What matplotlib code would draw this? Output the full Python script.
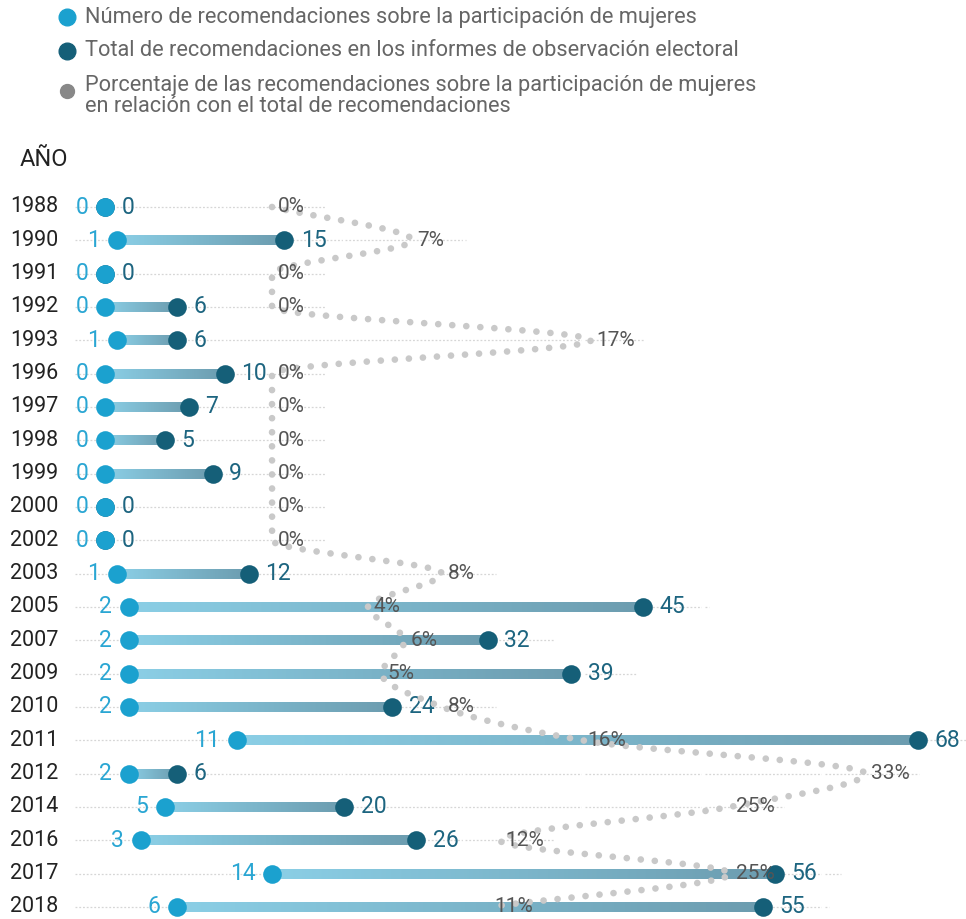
import numpy as np
import matplotlib.pyplot as plt
from matplotlib.colors import LinearSegmentedColormap

plt.rcParams['font.family'] = ['Roboto', 'DejaVu Sans']

# data
years = ['1988', '1990', '1991', '1992', '1993', '1996', '1997', '1998', '1999', '2000', '2002',
         '2003', '2005', '2007', '2009', '2010', '2011', '2012', '2014', '2016', '2017', '2018']
women = [0, 1, 0, 0, 1, 0, 0, 0, 0, 0, 0, 1, 2, 2, 2, 2, 11, 2, 5, 3, 14, 6]
total = [0, 15, 0, 6, 6, 10, 7, 5, 9, 0, 0, 12, 45, 32, 39, 24, 68, 6, 20, 26, 56, 55]
pct = [0, 6.7, 0, 0, 16.7, 0, 0, 0, 0, 0, 0, 8.3, 4.4, 6.3, 5.1, 8.3, 16.2, 33.3, 25, 11.5, 25, 10.9]

legend_labels = ['Número de recomendaciones sobre la participación de mujeres',
                 'Total de recomendaciones en los informes de observación electoral',
                 'Porcentaje de las recomendaciones sobre la participación de mujeres\n'
                 'en relación con el total de recomendaciones']

LIGHT = '#1ba1cf'
DARK = '#155f78'
GRAY = '#c9c9c9'

W, H = 966, 919
fig = plt.figure(figsize=(W / 100, H / 100), dpi=100)
ax = fig.add_axes([0, 0, 1, 1])
ax2 = ax.twiny()

# value axis: 0 at x=105 px, 11.96 px per unit
ax.set_xlim(-105 / 11.96, (W - 105) / 11.96)
# percentage axis: power scale, 0% at x=272 px
EXP, K = 0.9, 25.3
fwd = lambda p: np.sign(p) * np.abs(p) ** EXP
inv = lambda q: np.sign(q) * np.abs(q) ** (1 / EXP)
ax2.set_xscale('function', functions=(fwd, inv))
ax2.set_xlim(-inv(272 / K), inv((W - 272) / K))
ypos = np.arange(len(years))

# row gridlines
for i in ypos:
    pv = (272 + K * fwd(pct[i]) - 105) / 11.96
    end = max(total[i] + 5.5, pv + 4.5)
    ax.plot([-2.5, end], [i, i], color='#d6d6d6', lw=0.9, ls=(0, (1.5, 1.5)), zorder=1)
for v in range(10, 70, 10):
    ax.axvline(v, color='white', lw=1.6, zorder=1.5)

# gradient bars
cmap = LinearSegmentedColormap.from_list('bar', ['#8bcfe6', '#6c9caf'])
grad = np.linspace(0, 1, 256).reshape(1, -1)
h = 0.3
for i in ypos:
    if total[i] > women[i]:
        ax.imshow(grad, cmap=cmap, extent=(women[i], total[i], i + h / 2, i - h / 2),
                  aspect='auto', zorder=2, interpolation='bilinear')

ax.scatter(total, ypos, s=180, color=DARK, zorder=4, lw=0)
ax.scatter(women, ypos, s=180, color=LIGHT, zorder=5, lw=0)

for i in ypos:
    ax.annotate(str(women[i]), (women[i], i), xytext=(-12, 0), textcoords='offset points',
                ha='right', va='center', fontsize=16.5, color='#2aa6d3', zorder=6)
    ax.annotate(str(total[i]), (total[i], i), xytext=(12, 0), textcoords='offset points',
                ha='left', va='center', fontsize=16.5, color='#1d6580', zorder=6)
    ax.text(-95 / 11.96, i, years[i], ha='left', va='center',
            fontsize=15.5, color='#222222')

# percentage curve (monotone cubic through the points)
def pchip(x, y, xs):
    x = np.asarray(x, float)
    y = np.asarray(y, float)
    d = np.diff(y) / np.diff(x)
    m = np.zeros_like(y)
    m[0], m[-1] = d[0], d[-1]
    for k in range(1, len(y) - 1):
        if d[k - 1] * d[k] > 0:
            m[k] = 2 / (1 / d[k - 1] + 1 / d[k])
    idx = np.clip(np.searchsorted(x, xs) - 1, 0, len(x) - 2)
    hh = x[idx + 1] - x[idx]
    t = (xs - x[idx]) / hh
    h00 = 2 * t**3 - 3 * t**2 + 1
    h10 = t**3 - 2 * t**2 + t
    h01 = -2 * t**3 + 3 * t**2
    h11 = t**3 - t**2
    return h00 * y[idx] + h10 * hh * m[idx] + h01 * y[idx + 1] + h11 * hh * m[idx + 1]

yy = np.linspace(0, len(years) - 1, 3000)
xx = inv(pchip(ypos, fwd(np.array(pct)), yy))
ax2.plot(xx, yy, color=GRAY, lw=4.8, ls=(0, (0.01, 2.1)), dash_capstyle='round', zorder=7)
for i in ypos:
    ax2.annotate(f'{pct[i]:.0f}%', (pct[i], i), xytext=(4, 0), textcoords='offset points',
                 ha='left', va='center', fontsize=15, color='#555555', zorder=8)

ax.set_ylim((H - 207) / 33.33, -207 / 33.33)
ax.set_axis_off()
ax2.set_axis_off()

# legend and header
for yp, col, ms in [(17, LIGHT, 12), (51, DARK, 12), (91, '#888888', 10)]:
    fig.lines.append(plt.Line2D([67 / W], [1 - yp / H], marker='o', ms=ms, color=col,
                                transform=fig.transFigure, lw=0))
fig.text(85 / W, 1 - 17 / H, legend_labels[0], fontsize=15.7, color='#666666', va='center')
fig.text(85 / W, 1 - 51 / H, legend_labels[1], fontsize=15.7, color='#666666', va='center')
fig.text(85 / W, 1 - 96 / H, legend_labels[2], fontsize=15.7, color='#666666', va='center',
         linespacing=1.05)
fig.text(20 / W, 1 - 160 / H, 'AÑO', fontsize=17, color='#222222', va='center')

fig.savefig('out.png', dpi=100, facecolor='white')
